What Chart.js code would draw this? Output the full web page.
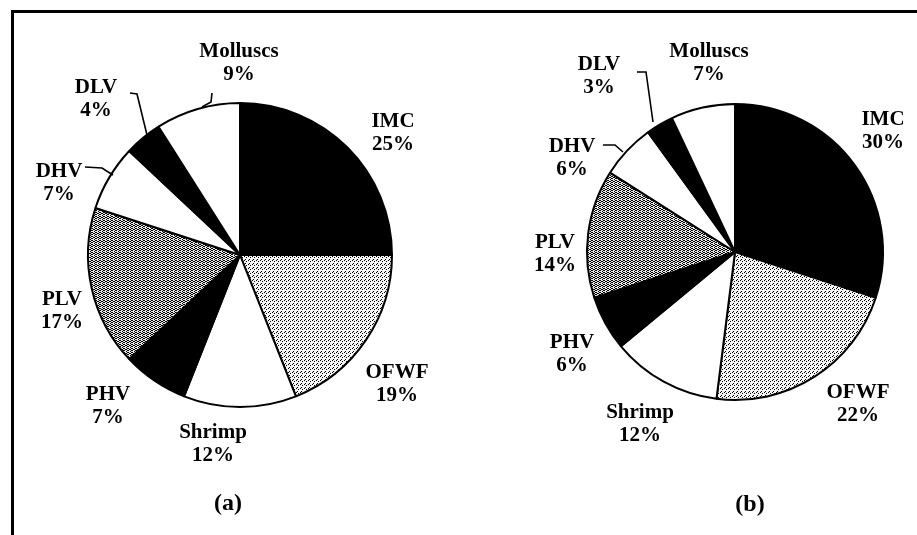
<!DOCTYPE html>
<html>
<head>
<meta charset="utf-8">
<script src="https://cdn.jsdelivr.net/npm/chart.js@4.4.1/dist/chart.umd.min.js"></script>
<style>
  html, body { margin: 0; padding: 0; background: #fff; }
  body { width: 917px; height: 535px; position: relative; overflow: hidden; }
  .frame { position: absolute; left: 11px; top: 10px; width: 940px; height: 560px;
           border-left: 3px solid #000; border-top: 3px solid #000; }
  .box { position: absolute; top: 0; height: 535px; }
  #boxA { left: 0; width: 480px; }
  #boxB { left: 480px; width: 437px; }
</style>
</head>
<body>
<div class="frame"></div>
<div class="box" id="boxA"><canvas id="pieA"></canvas></div>
<div class="box" id="boxB"><canvas id="pieB"></canvas></div>
<script>
// data (percent of total)
const categories = ['IMC', 'OFWF', 'Shrimp', 'PHV', 'PLV', 'DHV', 'DLV', 'Molluscs'];
const sharesA = [25, 19, 12, 7, 17, 7, 4, 9];
const sharesB = [30, 22, 12, 6, 14, 6, 3, 7];
const panelTitles = ['(a)', '(b)'];

const labelFont = 'bold 21px "Liberation Serif", "Times New Roman", serif';
const titleFont = 'bold 24px "Liberation Serif", "Times New Roman", serif';

function makePattern(size, dots, bg) {
  var c = document.createElement('canvas');
  c.width = size; c.height = size;
  var g = c.getContext('2d');
  g.fillStyle = bg;
  g.fillRect(0, 0, size, size);
  g.fillStyle = '#000';
  dots.forEach(function (d) { g.fillRect(d[0], d[1], 1, 1); });
  return g.createPattern(c, 'repeat');
}

// light stipple for OFWF, darker wavy hatch for PLV
var stipple = makePattern(4, [[0, 0], [2, 1], [1, 3]], '#f4f4f4');
var hatch = makePattern(4, [[0, 0], [1, 1], [2, 1], [3, 0], [0, 2], [2, 3], [3, 2]], '#e6e6e6');
var fills = ['#000', stipple, '#fff', '#000', hatch, '#fff', '#000', '#fff'];

// label anchors, offsets from the pie centre (first line); second line is 23px lower
var labelOffsetsA = [[153, -133], [157, 118], [-27, 178], [-132, 140], [-178, 45], [-181, -83], [-144, -167], [-1, -203]];
var labelOffsetsB = [[148, -132], [123, 141], [-95, 161], [-163, 91], [-180, -9], [-163, -105], [-136, -187], [-26, -200]];

var leadersA = [
  [[-110, -162], [-103, -161], [-93, -120]],
  [[-28, -162], [-29, -153], [-38, -148]],
  [[-155, -88], [-138, -87], [-127, -80]]
];
var leadersB = [
  [[-98, -180], [-89, -180], [-82, -130]],
  [[-132, -107], [-120, -107], [-112, -100]]
];

const pieLabels = {
  id: 'pieLabels',
  afterDraw(chart) {
    var o = chart.options.plugins.pieLabels;
    var arc = chart.getDatasetMeta(0).data[0];
    var cx = arc.x, cy = arc.y;
    var values = chart.data.datasets[0].data;
    var ctx = chart.ctx;
    ctx.save();
    ctx.fillStyle = '#000';
    ctx.textAlign = 'center';
    ctx.textBaseline = 'middle';
    ctx.font = labelFont;
    chart.data.labels.forEach(function (name, i) {
      var off = o.offsets[i];
      ctx.fillText(name, cx + off[0], cy + off[1]);
      ctx.fillText(values[i] + '%', cx + off[0], cy + off[1] + 23);
    });
    ctx.strokeStyle = '#000';
    ctx.lineWidth = 1.6;
    o.leaders.forEach(function (pts) {
      ctx.beginPath();
      pts.forEach(function (p, k) {
        if (k == 0) ctx.moveTo(cx + p[0], cy + p[1]);
        else ctx.lineTo(cx + p[0], cy + p[1]);
      });
      ctx.stroke();
    });
    ctx.font = titleFont;
    ctx.fillText(o.title, cx + o.titleOffset[0], cy + o.titleOffset[1]);
    ctx.restore();
  }
};

function buildPie(canvasId, shares, offsets, leaders, title, titleOffset, padding) {
  return new Chart(document.getElementById(canvasId), {
    type: 'pie',
    data: {
      labels: categories,
      datasets: [{
        data: shares,
        backgroundColor: fills,
        borderColor: '#000',
        borderWidth: 2
      }]
    },
    options: {
      responsive: true,
      maintainAspectRatio: false,
      animation: false,
      layout: { padding: padding },
      plugins: {
        legend: { display: false },
        tooltip: { enabled: false },
        pieLabels: { offsets: offsets, leaders: leaders, title: title, titleOffset: titleOffset }
      }
    },
    plugins: [pieLabels]
  });
}

// pie (a): centre (240,255) r 152 ; pie (b): centre (735,252) r 148
buildPie('pieA', sharesA, labelOffsetsA, leadersA, panelTitles[0], [-12, 249],
  { left: 87, right: 87, top: 102, bottom: 127 });
buildPie('pieB', sharesB, labelOffsetsB, leadersB, panelTitles[1], [15, 253],
  { left: 106, right: 33, top: 103, bottom: 134 });
</script>
</body>
</html>
